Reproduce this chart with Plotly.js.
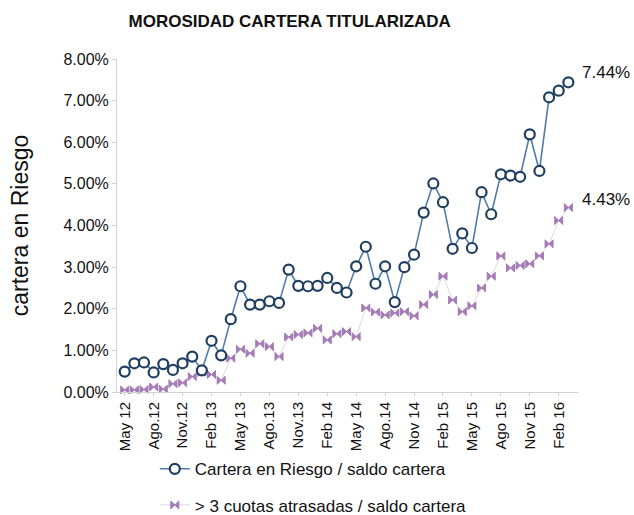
<!DOCTYPE html>
<html>
<head>
<meta charset="utf-8">
<script src="https://cdn.plot.ly/plotly-3.0.1.min.js"></script>
<style>html,body{margin:0;padding:0;background:#fff;}#chart{width:634px;height:515px;}</style>
</head>
<body>
<div id="chart"></div>
<script>
// Months (May 2012 - Mar 2016)
const months = ["May 12","Jun 12","Jul 12","Ago.12","Sep 12","Oct 12","Nov.12","Dic 12",
  "Ene 13","Feb 13","Mar 13","Abr 13","May 13","Jun 13","Jul 13","Ago.13","Sep 13","Oct 13","Nov.13","Dic 13",
  "Ene 14","Feb 14","Mar 14","Abr 14","May 14","Jun 14","Jul 14","Ago.14","Sep 14","Oct 14","Nov 14","Dic 14",
  "Ene 15","Feb 15","Mar 15","Abr 15","May 15","Jun 15","Jul 15","Ago 15","Sep 15","Oct 15","Nov 15","Dic 15",
  "Ene 16","Feb 16","Mar 16"];
const tickLabels = ["May 12","Ago.12","Nov.12","Feb 13","May 13","Ago.13","Nov.13","Feb 14",
  "May 14","Ago.14","Nov 14","Feb 15","May 15","Ago 15","Nov 15","Feb 16"];
// Cartera en Riesgo / saldo cartera (%)
const carteraRiesgo = [0.49,0.69,0.71,0.47,0.67,0.53,0.69,0.85,
  0.52,1.23,0.88,1.75,2.54,2.10,2.10,2.18,2.14,2.94,2.55,2.54,
  2.55,2.74,2.50,2.39,3.02,3.49,2.60,3.02,2.16,3.00,3.30,4.31,
  5.01,4.56,3.44,3.81,3.46,4.80,4.27,5.23,5.20,5.17,6.19,5.31,
  7.08,7.24,7.44];
// > 3 cuotas atrasadas / saldo cartera (%)
const cuotasAtrasadas = [0.05,0.05,0.06,0.12,0.07,0.20,0.22,0.37,
  0.47,0.42,0.28,0.81,1.03,0.93,1.16,1.09,0.85,1.32,1.38,1.42,
  1.53,1.25,1.40,1.45,1.33,2.02,1.92,1.85,1.90,1.93,1.83,2.10,
  2.34,2.78,2.21,1.93,2.07,2.50,2.78,3.27,2.98,3.04,3.08,3.27,
  3.56,4.12,4.43];
const seriesNames = ["Cartera en Riesgo / saldo cartera", "> 3 cuotas atrasadas / saldo cartera"];
const lastLabels = ["7.44%", "4.43%"];

const tickVals = months.filter((m, i) => i % 3 === 0 && i < 46);
const FONT = "Liberation Sans, Arial, sans-serif";

const traces = [
  {
    x: months, y: cuotasAtrasadas, name: seriesNames[1], type: "scatter", mode: "lines+markers",
    legendgroup: "b", legendrank: 2,
    line: {color: "#e2d3e6", width: 1},
    marker: {symbol: "bowtie", size: 8, color: "#a47bb7", line: {color: "#a47bb7", width: 1}},
    cliponaxis: false
  },
  {
    x: months, y: carteraRiesgo, name: seriesNames[0], type: "scatter", mode: "lines+markers",
    legendgroup: "a", legendrank: 1,
    line: {color: "#4f7cab", width: 1.6},
    marker: {symbol: "circle", size: 10, color: "#ffffff", line: {color: "#1f3e60", width: 2.2}},
    cliponaxis: false
  }
];

const n = months.length - 1;
const layout = {
  width: 634, height: 515,
  margin: {l: 117, r: 56, t: 59, b: 123, autoexpand: false},
  paper_bgcolor: "#ffffff", plot_bgcolor: "#ffffff",
  font: {family: FONT, color: "#111"},
  title: {text: "<b>MOROSIDAD CARTERA TITULARIZADA</b>", font: {size: 17, family: FONT, color: "#111"},
    xref: "container", x: 0.457, xanchor: "center", yref: "container", y: 0.96, yanchor: "middle"},
  xaxis: {
    type: "category", range: [-0.8, 47], tickvals: tickVals, ticktext: tickLabels,
    tickangle: -90, tickfont: {size: 15, family: FONT, color: "#111"},
    showgrid: false, zeroline: false, showline: true, linecolor: "#d0d0d0", linewidth: 1,
    ticks: "outside", ticklen: 3, tickcolor: "#d0d0d0", automargin: false
  },
  yaxis: {
    range: [0, 8], tickvals: [0,1,2,3,4,5,6,7,8], ticktext: ["0.00%","1.00%","2.00%","3.00%","4.00%","5.00%","6.00%","7.00%","8.00%"],
    tickfont: {size: 16, family: FONT, color: "#111"},
    showgrid: false, zeroline: false, showline: true, linecolor: "#d0d0d0", linewidth: 1,
    ticks: "outside", ticklen: 4, tickcolor: "#d0d0d0", automargin: false,
    title: {text: "cartera en Riesgo", font: {size: 23, family: FONT, color: "#111"}, standoff: 28}
  },
  showlegend: true,
  legend: {
    orientation: "v", x: 0.082, xanchor: "left", y: -0.178, yanchor: "top",
    font: {size: 17, family: FONT, color: "#111"}, traceorder: "grouped", tracegroupgap: 11,
    bgcolor: "rgba(0,0,0,0)", itemwidth: 30
  },
  annotations: [
    {x: months[n], y: carteraRiesgo[n], text: lastLabels[0], xref: "x", yref: "y", showarrow: false,
      xanchor: "left", xshift: 12, yshift: 10, font: {size: 17, family: FONT, color: "#111"}},
    {x: months[n], y: cuotasAtrasadas[n], text: lastLabels[1], xref: "x", yref: "y", showarrow: false,
      xanchor: "left", xshift: 12, yshift: 8, font: {size: 17, family: FONT, color: "#111"}}
  ]
};

Plotly.newPlot("chart", traces, layout, {displayModeBar: false, staticPlot: true});
</script>
</body>
</html>
